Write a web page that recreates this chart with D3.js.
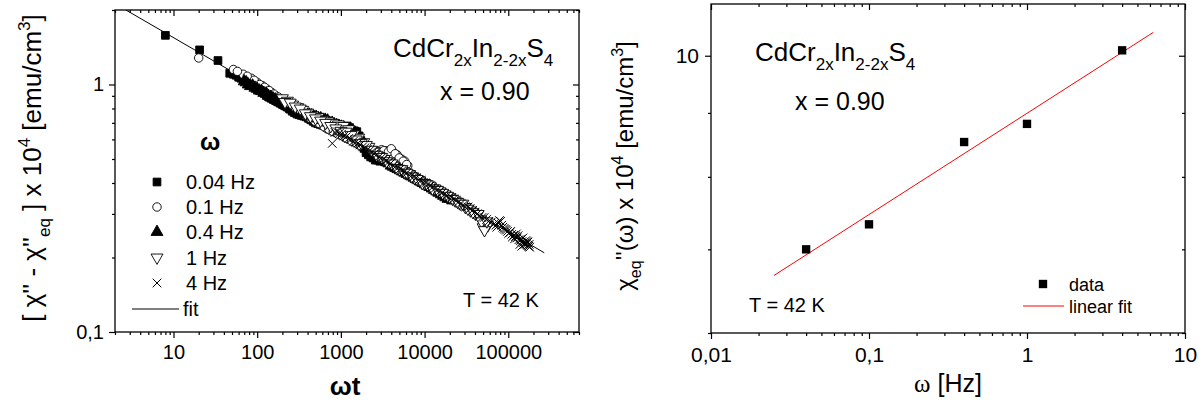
<!DOCTYPE html>
<html><head><meta charset="utf-8">
<script src="https://cdn.jsdelivr.net/npm/d3@7"></script>
<style>
body{margin:0;background:#fff}
svg{display:block}
text{font-family:"Liberation Sans",Arial,sans-serif;fill:#000}
</style>
</head><body>
<svg id="c" width="1199" height="402"></svg>
<script>
// ---------- DATA ----------
const seriesNames = ["0.04 Hz", "0.1 Hz", "0.4 Hz", "1 Hz", "4 Hz"];
// [omega*t, (chi'' - chi''_eq) x 1e4]
const s004 = [[8,1.58],[20.5,1.38],[34,1.25],[47,1.11],[56,1.09],[64,1.06],[73,1.04],[83,1.00],[95,0.98],[108,0.95],[122,0.92],[138,0.89],[157,0.87],[178,0.85],[202,0.83],[230,0.81],[262,0.78],[298,0.76],[338,0.75],[385,0.74],[437,0.72],[497,0.70],[565,0.69],[642,0.68],[730,0.66],[830,0.65],[943,0.66],[1070,0.67],[1190,0.68],[1350,0.655],[1550,0.645],[1760,0.58],[2000,0.53],[2270,0.51],[2580,0.495],[2930,0.49],
  [52,1.10],[60,1.07],[68,1.05],[78,1.02],[89,0.99],[101,0.965],[115,0.935],[130,0.905],[147,0.88],[167,0.86],[190,0.84],[216,0.82],[245,0.795],[279,0.77],[317,0.755],[360,0.745],[410,0.73],[466,0.71],[530,0.695],[603,0.685],[685,0.67],[779,0.655],[885,0.655],[1005,0.665],[1130,0.675],[1270,0.67],[1450,0.65],[1650,0.62],[1880,0.555],[2130,0.52],[2420,0.505],[2750,0.495]];
const s01 = [[20,1.28],[52,1.15],[68,1.10],[85,1.06],[100,1.02],[115,0.99],[130,0.96],[148,0.93],[168,0.90],[190,0.875],[216,0.85],[245,0.83],[278,0.81],[315,0.79],[357,0.76],[405,0.74],[460,0.72],[522,0.70],[592,0.685],[672,0.665],[762,0.65],[865,0.64],[981,0.625],[1113,0.61],[1263,0.60],[1433,0.585],[1626,0.57],[1845,0.56],[2094,0.55],[2376,0.545],[2696,0.54],[3059,0.545],[3471,0.54],[3900,0.545],[4200,0.535],[4700,0.52],[5300,0.50],[5800,0.49],[6300,0.47],
  [58,1.13],[76,1.08],[92,1.04],[107,1.00],[122,0.975],[139,0.945],[158,0.915],[179,0.89],[203,0.86],[230,0.84],[261,0.82],[296,0.80],[336,0.775],[381,0.75],[432,0.73],[490,0.71],[556,0.695],[631,0.675],[716,0.66],[812,0.645],[921,0.63],[1045,0.62],[1186,0.605],[1346,0.59],[1527,0.58],[1733,0.565],[1966,0.555],[2231,0.545],[2532,0.54],[2873,0.535],[3260,0.54],[3700,0.535],[4000,0.55],[4450,0.525],[4980,0.505],[5550,0.49],[6100,0.475]];
const s04 = [[70,1.03],[78,1.00],[88,0.99],[100,0.96],[113,0.94],[128,0.92],[145,0.89],[164,0.87],[186,0.85],[211,0.83],[239,0.81],[271,0.80],[307,0.79],[348,0.78],[394,0.76],[447,0.75],[506,0.74],[574,0.73],[650,0.72],[737,0.70],[835,0.69],[946,0.68],[1072,0.67],[1215,0.66],[1377,0.64],[1560,0.62],[1768,0.60],[2004,0.55],[2271,0.53],[2574,0.51],[2917,0.50],[3306,0.49],[3747,0.48],[4246,0.465],[4812,0.455],[5454,0.445],[6181,0.435],[7005,0.425],[7939,0.415],[8998,0.405],[10200,0.395],[11560,0.385],[13100,0.375],[14850,0.365],[16830,0.355],[19070,0.345],[21600,0.34],
  [74,1.02],[83,0.985],[94,0.97],[106,0.945],[120,0.925],[136,0.90],[154,0.88],[175,0.86],[198,0.84],[225,0.82],[255,0.80],[289,0.79],[327,0.775],[371,0.77],[420,0.755],[476,0.74],[540,0.73],[612,0.72],[693,0.715],[786,0.70],[890,0.685],[1009,0.675],[1143,0.66],[1296,0.65],[1469,0.625],[1665,0.61],[1887,0.58],[2138,0.54],[2423,0.52],[2746,0.505],[3112,0.495],[3527,0.485],[3997,0.47],[4530,0.46],[5134,0.45],[5818,0.44],[6593,0.43],[7472,0.42],[8468,0.41],[9597,0.40],[10880,0.39],[12330,0.38],[13970,0.37],[15830,0.36],[17940,0.35],[20330,0.345]];
const s1 = [[200,0.88],[230,0.86],[265,0.83],[305,0.81],[350,0.79],[403,0.77],[463,0.75],[533,0.74],[613,0.72],[705,0.71],[811,0.70],[933,0.69],[1073,0.68],[1234,0.66],[1419,0.63],[1632,0.61],[1877,0.585],[2159,0.56],[2483,0.535],[2855,0.515],[3283,0.50],[3776,0.485],[4342,0.47],[4994,0.455],[5743,0.445],[6604,0.435],[7595,0.42],[8734,0.41],[10040,0.40],[11550,0.39],[13280,0.38],[15280,0.37],[17570,0.36],[20200,0.35],[23230,0.34],[26720,0.33],[30720,0.32],[35330,0.31],[40630,0.30],[46730,0.285],[50000,0.265],[53740,0.275],[57000,0.27],
  [215,0.85],[248,0.845],[285,0.815],[327,0.80],[376,0.765],[433,0.745],[498,0.73],[572,0.715],[658,0.70],[757,0.68],[871,0.665],[1002,0.65],[1152,0.645],[1325,0.625],[1524,0.60],[1753,0.58],[2016,0.57],[2318,0.545],[2666,0.52],[3066,0.51],[3526,0.49],[4055,0.48],[4663,0.46],[5363,0.455],[6167,0.44],[7092,0.425],[8156,0.415],[9380,0.40],[10790,0.395],[12400,0.38],[14270,0.375],[16410,0.365],[18870,0.355],[21700,0.345],[24960,0.335],[28700,0.33],[33000,0.315],[37950,0.305],[43650,0.30],[48000,0.28],[52000,0.258],[55500,0.28]];
const s4 = [[789,0.578],[900,0.645],[1020,0.63],[1160,0.615],[1320,0.60],[1500,0.585],[1700,0.57],[1940,0.555],[2200,0.54],[2500,0.525],[2850,0.51],[3240,0.50],[3680,0.485],[4190,0.47],[4760,0.46],[5420,0.45],[6160,0.44],[7010,0.43],[7970,0.42],[9070,0.41],[10300,0.40],[11700,0.39],[13300,0.38],[15200,0.37],[17300,0.36],[19600,0.35],[22300,0.345],[25400,0.335],[28900,0.325],[32900,0.32],[37400,0.31],[42500,0.30],[48400,0.29],[55000,0.285],[62600,0.278],[71200,0.27],[76000,0.275],[81000,0.28],[86000,0.265],[92000,0.26],[98000,0.255],[104000,0.252],[110000,0.248],[112000,0.242],[116000,0.246],[122000,0.243],[125000,0.249],[128000,0.24],[134000,0.236],[138000,0.226],[140000,0.234],[145000,0.222],[146000,0.232],[150000,0.24],[152000,0.23],[158000,0.228],[162000,0.234],[164000,0.226],[170000,0.224],[172000,0.231],[176000,0.222],[180000,0.22],
  [850,0.64],[960,0.635],[1090,0.62],[1240,0.605],[1410,0.59],[1600,0.58],[1820,0.56],[2070,0.545],[2350,0.535],[2670,0.52],[3040,0.505],[3450,0.49],[3930,0.48],[4470,0.465],[5080,0.455],[5780,0.445],[6570,0.43],[7470,0.425],[8500,0.41],[9670,0.40],[11000,0.395],[12500,0.385],[14200,0.375],[16200,0.365],[18400,0.355],[20900,0.35],[23800,0.34],[27100,0.33],[30800,0.32],[35000,0.315],[39800,0.305],[45300,0.295],[51500,0.29],[58600,0.28],[66600,0.272],[73000,0.265],[78500,0.282],[83500,0.27],[89000,0.262],[95000,0.258],[101000,0.25],[107000,0.255],[119000,0.238],[131000,0.245],[143000,0.237],[155000,0.226],[167000,0.232],[178000,0.226]];
const leftFitX = [2.7, 269000];
const leftFitY = [2.0, 0.209];

const leftXTicks = [10, 100, 1000, 10000, 100000];
const leftXTickLabels = ["10", "100", "1000", "10000", "100000"];
const leftYTicks = [0.1, 1];
const leftYTickLabels = ["0,1", "1"];

// right panel
const freqHz = [0.04, 0.1, 0.4, 1, 4];
const chiEq = [7.0, 7.33, 8.53, 8.82, 10.1];
const rightFitX = [0.025, 6.3];
const rightFitY = [6.67, 10.44];
const rightXTicks = [0.01, 0.1, 1, 10];
const rightXTickLabels = ["0,01", "0,1", "1", "10"];
const rightYTicks = [10];
const rightYTickLabels = ["10"];

// ---------- DRAW ----------
const svg = d3.select("#c");
const SERIF = "'Liberation Serif','Times New Roman',serif";

function rich(sel, parts, F, subF) {
  let shift = 0;
  parts.forEach(p => {
    const ts = sel.append("tspan").text(p.t);
    const target = p.sub ? 0.33 * F : (p.sup ? -0.42 * F : 0);
    const dy = target - shift;
    if (dy !== 0) ts.attr("dy", dy);
    shift = target;
    if (p.sub || p.sup) ts.attr("font-size", subF);
    if (p.f) ts.attr("font-family", p.f);
    if (p.w) ts.attr("font-weight", p.w);
  });
}

function minorVals(domain, majors) {
  const out = [];
  for (let k = -3; k <= 6; k++) {
    for (let m = 1; m <= 9; m++) {
      const v = +(m * Math.pow(10, k)).toPrecision(6);
      if (v >= domain[0] * 0.9999 && v <= domain[1] * 1.0001 && !majors.some(a => Math.abs(a - v) / v < 1e-6)) out.push(v);
    }
  }
  return out;
}

function frame(g, x, y, xMaj, xLab, yMaj, yLab, fontSize, padX, padY) {
  const [x0, x1] = x.range();
  const [y0, y1] = y.range();
  const xMin = minorVals(x.domain(), xMaj);
  const yMin = minorVals(y.domain(), yMaj);
  const style = s => {
    s.select(".domain").remove();
    s.selectAll("line").attr("stroke", "#000").attr("stroke-width", 1.2);
    s.selectAll("text").attr("font-family", "'Liberation Sans',Arial,sans-serif").attr("font-size", fontSize).attr("fill", "#000");
    s.attr("font-family", null).attr("font-size", null);
  };
  g.append("g").attr("transform", `translate(0,${y0})`)
    .call(d3.axisBottom(x).tickValues(xMaj).tickFormat((d, i) => xLab[i]).tickSize(6).tickPadding(padX)).call(style);
  g.append("g").attr("transform", `translate(0,${y0})`)
    .call(d3.axisBottom(x).tickValues(xMin).tickFormat("").tickSize(3)).call(style);
  g.append("g").attr("transform", `translate(0,${y1})`)
    .call(d3.axisTop(x).tickValues(xMaj).tickFormat("").tickSize(-6)).call(style);
  g.append("g").attr("transform", `translate(0,${y1})`)
    .call(d3.axisTop(x).tickValues(xMin).tickFormat("").tickSize(-3)).call(style);
  g.append("g").attr("transform", `translate(${x0},0)`)
    .call(d3.axisLeft(y).tickValues(yMaj).tickFormat((d, i) => yLab[i]).tickSize(6).tickPadding(padY)).call(style);
  g.append("g").attr("transform", `translate(${x0},0)`)
    .call(d3.axisLeft(y).tickValues(yMin).tickFormat("").tickSize(3)).call(style);
  g.append("g").attr("transform", `translate(${x1},0)`)
    .call(d3.axisRight(y).tickValues(yMaj).tickFormat("").tickSize(-6)).call(style);
  g.append("g").attr("transform", `translate(${x1},0)`)
    .call(d3.axisRight(y).tickValues(yMin).tickFormat("").tickSize(-3)).call(style);
  g.append("rect").attr("x", x0).attr("y", y1).attr("width", x1 - x0).attr("height", y0 - y1)
    .attr("fill", "none").attr("stroke", "#000").attr("stroke-width", 1.3);
}

// ===== LEFT PANEL =====
const xL = d3.scaleLog().domain([2, 7e5]).range([115, 579]);
const yL = d3.scaleLog().domain([0.1, 2]).range([332, 10]);
const gL = svg.append("g");

const symDefs = [
  {type: d3.symbolSquare, size: 60, fill: "#000", rot: 0},
  {type: d3.symbolCircle, size: 56, fill: "#fff", rot: 0},
  {type: d3.symbolTriangle, size: 62, fill: "#000", rot: 0},
  {type: d3.symbolTriangle, size: 62, fill: "#fff", rot: 180},
  {type: d3.symbolX, size: 50, fill: "none", rot: 0}
];
const allSeries = [s004, s01, s04, s1, s4];

svg.append("clipPath").attr("id", "clipL").append("rect")
  .attr("x", 115).attr("y", 10).attr("width", 464).attr("height", 322);

const dataG = gL.append("g").attr("clip-path", "url(#clipL)");
dataG.append("path")
  .datum(leftFitX.map((v, i) => [v, leftFitY[i]]))
  .attr("d", d3.line().x(d => xL(d[0])).y(d => yL(d[1])))
  .attr("fill", "none").attr("stroke", "#000").attr("stroke-width", 1);

function drawSym(g, def, x, y) {
  g.append("path")
    .attr("d", d3.symbol(def.type, def.size)())
    .attr("transform", `translate(${x},${y}) rotate(${def.rot})`)
    .attr("fill", def.fill)
    .attr("stroke", "#000")
    .attr("stroke-width", def.type === d3.symbolX ? 1 : 0.9);
}

allSeries.forEach((s, si) => {
  const def = symDefs[si];
  const sg = dataG.append("g");
  s.forEach(d => drawSym(sg, def, xL(d[0]), yL(d[1])));
});

frame(gL, xL, yL, leftXTicks, leftXTickLabels, leftYTicks, leftYTickLabels, 20, 7, 5);

// legend
gL.append("text").attr("x", 200).attr("y", 150).attr("font-family", SERIF).attr("font-size", 24).attr("font-weight", "bold").text("ω");
const legY = [182, 207, 232, 257.5, 283];
seriesNames.forEach((n, i) => {
  drawSym(gL, symDefs[i], 157, legY[i]);
  gL.append("text").attr("x", 186).attr("y", legY[i] + 7).attr("font-size", 20).text(n);
});
gL.append("line").attr("x1", 132).attr("x2", 179).attr("y1", 309).attr("y2", 309).attr("stroke", "#000").attr("stroke-width", 1);
gL.append("text").attr("x", 183).attr("y", 315.5).attr("font-size", 20).text("fit");

rich(gL.append("text").attr("x", 393).attr("y", 57).attr("font-size", 26),
  [{t: "CdCr"}, {t: "2x", sub: true}, {t: "In"}, {t: "2-2x", sub: true}, {t: "S"}, {t: "4", sub: true}], 26, 17);
gL.append("text").attr("x", 440).attr("y", 100).attr("font-size", 25).text("x = 0.90");
gL.append("text").attr("x", 463).attr("y", 307).attr("font-size", 20).text("T = 42 K");

rich(gL.append("text").attr("text-anchor", "middle").attr("transform", "translate(41,168) rotate(-90)").attr("font-size", 26),
  [{t: "[ χ'' - χ''"}, {t: "eq", sub: true}, {t: " ] x 10"}, {t: "4", sup: true}, {t: " [emu/cm"}, {t: "3", sup: true}, {t: "]"}], 26, 17);
gL.append("text").attr("x", 345).attr("y", 395).attr("text-anchor", "middle").attr("font-family", SERIF)
  .attr("font-size", 26).attr("font-weight", "bold").text("ωt");

// ===== RIGHT PANEL =====
const xR = d3.scaleLog().domain([0.01, 10]).range([711, 1185]);
const yR = d3.scaleLog().domain([6, 11]).range([333, 4]);
const gR = svg.append("g");

gR.append("path")
  .datum(rightFitX.map((v, i) => [v, rightFitY[i]]))
  .attr("d", d3.line().x(d => xR(d[0])).y(d => yR(d[1])))
  .attr("fill", "none").attr("stroke", "#ff0000").attr("stroke-width", 1);

freqHz.forEach((f, i) => {
  gR.append("path").attr("d", d3.symbol(d3.symbolSquare, 70)())
    .attr("transform", `translate(${xR(f)},${yR(chiEq[i])})`).attr("fill", "#000");
});

frame(gR, xR, yR, rightXTicks, rightXTickLabels, rightYTicks, rightYTickLabels, 21, 8, 6);

gR.append("path").attr("d", d3.symbol(d3.symbolSquare, 70)()).attr("transform", "translate(1043,284)").attr("fill", "#000");
gR.append("text").attr("x", 1069).attr("y", 291).attr("font-size", 18).text("data");
gR.append("line").attr("x1", 1023).attr("x2", 1064).attr("y1", 306).attr("y2", 306).attr("stroke", "#ff0000").attr("stroke-width", 1);
gR.append("text").attr("x", 1069).attr("y", 313).attr("font-size", 18).text("linear fit");

rich(gR.append("text").attr("x", 755).attr("y", 61).attr("font-size", 26),
  [{t: "CdCr"}, {t: "2x", sub: true}, {t: "In"}, {t: "2-2x", sub: true}, {t: "S"}, {t: "4", sub: true}], 26, 17);
gR.append("text").attr("x", 795).attr("y", 110).attr("font-size", 25).text("x = 0.90");
gR.append("text").attr("x", 749).attr("y", 312).attr("font-size", 20).text("T = 42 K");

rich(gR.append("text").attr("text-anchor", "middle").attr("transform", "translate(633,166) rotate(-90)").attr("font-size", 24),
  [{t: "χ"}, {t: "eq", sub: true}, {t: "''(ω) x 10"}, {t: "4", sup: true}, {t: " [emu/cm"}, {t: "3", sup: true}, {t: "]"}], 24, 16);
rich(gR.append("text").attr("x", 948).attr("y", 392).attr("text-anchor", "middle").attr("font-size", 25),
  [{t: "ω", f: SERIF}, {t: " [Hz]"}], 25, 16);
</script>
</body></html>
